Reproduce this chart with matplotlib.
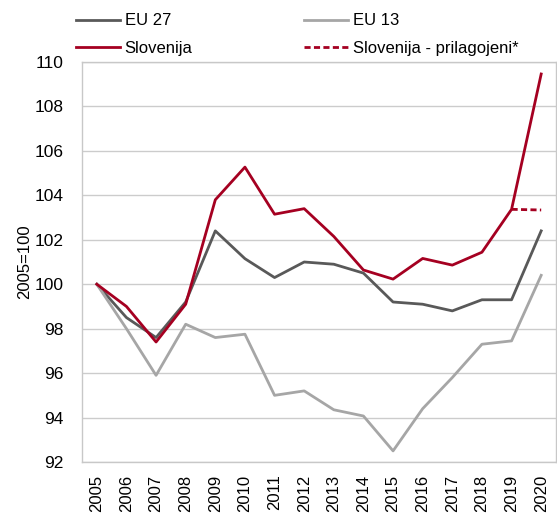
import matplotlib
matplotlib.use("Agg")
import matplotlib.pyplot as plt

# Data (index, 2005=100).
years = list(range(2005, 2021))
eu27 = [100.0, 98.5, 97.6, 99.2, 102.4, 101.15, 100.3, 101.0, 100.9, 100.5,
        99.2, 99.1, 98.8, 99.3, 99.3, 102.4]
eu13 = [100.0, 98.0, 95.9, 98.2, 97.6, 97.75, 95.0, 95.2, 94.35, 94.07,
        92.5, 94.4, 95.8, 97.3, 97.45, 100.4]
slovenija = [100.0, 99.0, 97.4, 99.1, 103.8, 105.27, 103.15, 103.4, 102.15, 100.64,
             100.23, 101.16, 100.86, 101.44, 103.37, 109.46]
adj_years = [2019, 2020]
slovenija_adj = [103.37, 103.34]
y_ticks = list(range(92, 111, 2))

C_EU27 = "#595959"
C_EU13 = "#a6a6a6"
C_SLO = "#a50021"

plt.rcParams["font.family"] = ["Liberation Sans", "DejaVu Sans"]
plt.rcParams["font.size"] = 12

fig = plt.figure(figsize=(5.57, 5.21), dpi=100)
ax = fig.add_axes([82 / 557, 59 / 521, 474 / 557, 400 / 521])

x = list(range(len(years)))
xa = [years.index(y) for y in adj_years]
lw = 2.0
h27, = ax.plot(x, eu27, color=C_EU27, lw=lw, label="EU 27")
h13, = ax.plot(x, eu13, color=C_EU13, lw=lw, label="EU 13")
hslo, = ax.plot(x, slovenija, color=C_SLO, lw=lw, label="Slovenija")
hadj, = ax.plot(xa, slovenija_adj, color=C_SLO, lw=lw, ls=(0, (2.2, 1.2)),
                label="Slovenija - prilagojeni*")

ax.set_xlim(-0.5, len(years) - 0.5)
ax.set_ylim(92, 110)
ax.set_yticks(y_ticks)
ax.set_xticks(x)
ax.set_xticklabels([str(y) for y in years], rotation=90)
ax.tick_params(axis="y", length=0, pad=13, labelsize=12.5)
ax.tick_params(axis="x", length=0, pad=9, labelsize=12)
ax.yaxis.grid(True, color="#cccccc", lw=1.0)
ax.set_axisbelow(True)
for s in ax.spines.values():
    s.set_color("#c8c8c8")
    s.set_linewidth(1.0)
ax.set_ylabel("2005=100", labelpad=2, fontsize=12)

fig.legend(handles=[h27, hslo, h13, hadj], ncol=2, frameon=False,
           loc="upper left", bbox_to_anchor=(63 / 557, 1.0),
           handlelength=2.6, handletextpad=0.3, columnspacing=6.7,
           labelspacing=0.75, borderpad=0.3, fontsize=12)

fig.savefig("out.png", dpi=100)
